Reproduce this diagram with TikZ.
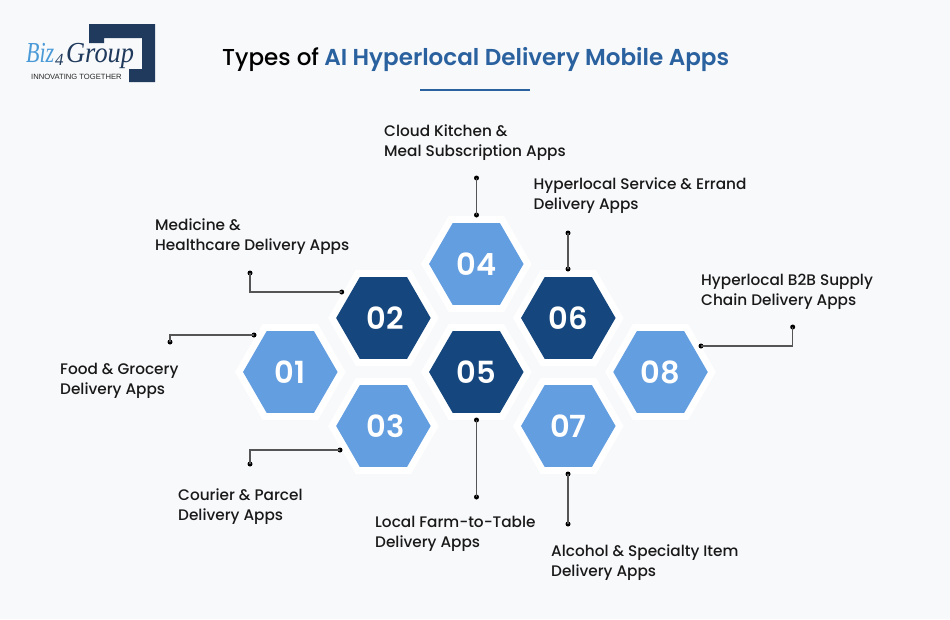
\documentclass[tikz,border=0pt]{standalone}
\usepackage{fontspec}
\setmainfont{Poppins}[UprightFont={* Medium},BoldFont={* SemiBold}]
\newfontfamily\logoserif{Liberation Serif}
\newfontfamily\logosans{Liberation Sans}
\usetikzlibrary{shapes.geometric}
\definecolor{pagebg}{HTML}{F8F9FB}
\definecolor{hexlight}{HTML}{639EE0}
\definecolor{hexdark}{HTML}{15477E}
\definecolor{titleblue}{HTML}{2A619F}
\definecolor{logonavy}{HTML}{1F3A5C}
\definecolor{logosky}{HTML}{4A9AD8}
\definecolor{linegray}{HTML}{555555}
\tikzset{
  x=1pt,y=-1pt,
  hexbase/.style={regular polygon,regular polygon sides=6,minimum size=94.5pt,inner sep=0pt,outer sep=0pt,
    preaction={draw=white,line width=14pt},text=white,font=\bfseries\fontsize{30.5}{31}\selectfont},
  hexa/.style={hexbase,fill=hexlight},
  hexb/.style={hexbase,fill=hexdark},
  dot/.style={circle,fill=black,inner sep=0pt,minimum size=5pt},
  conn/.style={draw=linegray,line width=1.2pt},
  lab/.style={anchor=west,align=left,inner sep=0pt,text=black!90,font=\fontsize{15.3}{20}\selectfont},
  logotext/.style={anchor=base west,inner sep=0pt,font=\logoserif\itshape\fontsize{29}{29}\selectfont},
}
\begin{document}
\begin{tikzpicture}
\useasboundingbox[fill=pagebg] (0,0) rectangle (950,619);
% logo
\fill[logonavy] (89,24) -- (155,24) -- (155,82) -- (129,82) -- (129,69) -- (142,69) -- (142,38) -- (104,38) -- (104,43) -- (89,43) -- cycle;
\node[logotext,text=logosky,xscale=.76] (logoa) at (26,62) {Biz};
\node[anchor=base west,inner sep=0pt,text=logonavy,font=\logoserif\itshape\fontsize{17}{17}\selectfont] (logoc) at (55,65) {4};
\node[logotext,text=logonavy,xscale=.91] (logod) at (66,62) {Group};
\node[anchor=base west,inner sep=0pt,text=black!85] (logob) at (31,79.5) {\logosans\fontsize{7.6}{7.6}\selectfont INNOVATING TOGETHER};
% title
\node[anchor=base west,inner sep=0pt,font=\fontsize{23.05}{24}\selectfont] (title) at (222,65.5) {Types of\kern5.2pt\textcolor{titleblue}{\bfseries AI Hyperlocal Delivery Mobile Apps}};
\coordinate (rulea) at (420,90);
\coordinate (ruleb) at (530,90);
\draw[titleblue,line width=1.5pt] (rulea) -- (ruleb);
% hexagons
\node[hexa] (h1) at (290.3,372) {01};
\node[hexb] (h2) at (383.4,318) {\kern4pt 02};
\node[hexa] (h3) at (383.4,426) {\kern4pt 03};
\node[hexa] (h4) at (476.3,264) {04};
\node[hexb] (h5) at (476.3,372) {05};
\node[hexb] (h6) at (568.3,318) {06};
\node[hexa] (h7) at (568.3,426) {07};
\node[hexa] (h8) at (660.5,372) {08};
% end dots
\node[dot] (a1) at (254,335) {}; \node[dot] (b1) at (170,342) {};
\node[dot] (a2) at (341.7,292) {}; \node[dot] (b2) at (250,273) {};
\node[dot] (a3) at (340,450) {}; \node[dot] (b3) at (250,464) {};
\node[dot] (a4) at (476.5,215) {}; \node[dot] (b4) at (476.5,178) {};
\node[dot] (a5) at (476.5,420) {}; \node[dot] (b5) at (476.5,497) {};
\node[dot] (a6) at (568,269) {}; \node[dot] (b6) at (568,233) {};
\node[dot] (a7) at (568,474) {}; \node[dot] (b7) at (568,524) {};
\node[dot] (a8) at (701,346) {}; \node[dot] (b8) at (792.7,327) {};
% connectors
\draw[conn] (a1.center) -| (b1.center);
\draw[conn] (a2.center) -| (b2.center);
\draw[conn] (a3.center) -| (b3.center);
\draw[conn] (a4.center) -- (b4.center);
\draw[conn] (a5.center) -- (b5.center);
\draw[conn] (a6.center) -- (b6.center);
\draw[conn] (a7.center) -- (b7.center);
\draw[conn] (a8.center) -| (b8.center);
% labels
\node[lab] (l1) at (60,381) {Food \& Grocery\\Delivery Apps};
\node[lab] (l2) at (155,237) {Medicine \&\\Healthcare Delivery Apps};
\node[lab] (l3) at (178,507) {Courier \& Parcel\\Delivery Apps};
\node[lab] (l4) at (384,143) {Cloud Kitchen \&\\Meal Subscription Apps};
\node[lab] (l5) at (375,534) {Local Farm-to-Table\\Delivery Apps};
\node[lab] (l6) at (533.5,196) {Hyperlocal Service \& Errand\\Delivery Apps};
\node[lab] (l7) at (551,562.5) {Alcohol \& Specialty Item\\Delivery Apps};
\node[lab] (l8) at (701,292) {Hyperlocal B2B Supply\\Chain Delivery Apps};
\end{tikzpicture}
\end{document}
